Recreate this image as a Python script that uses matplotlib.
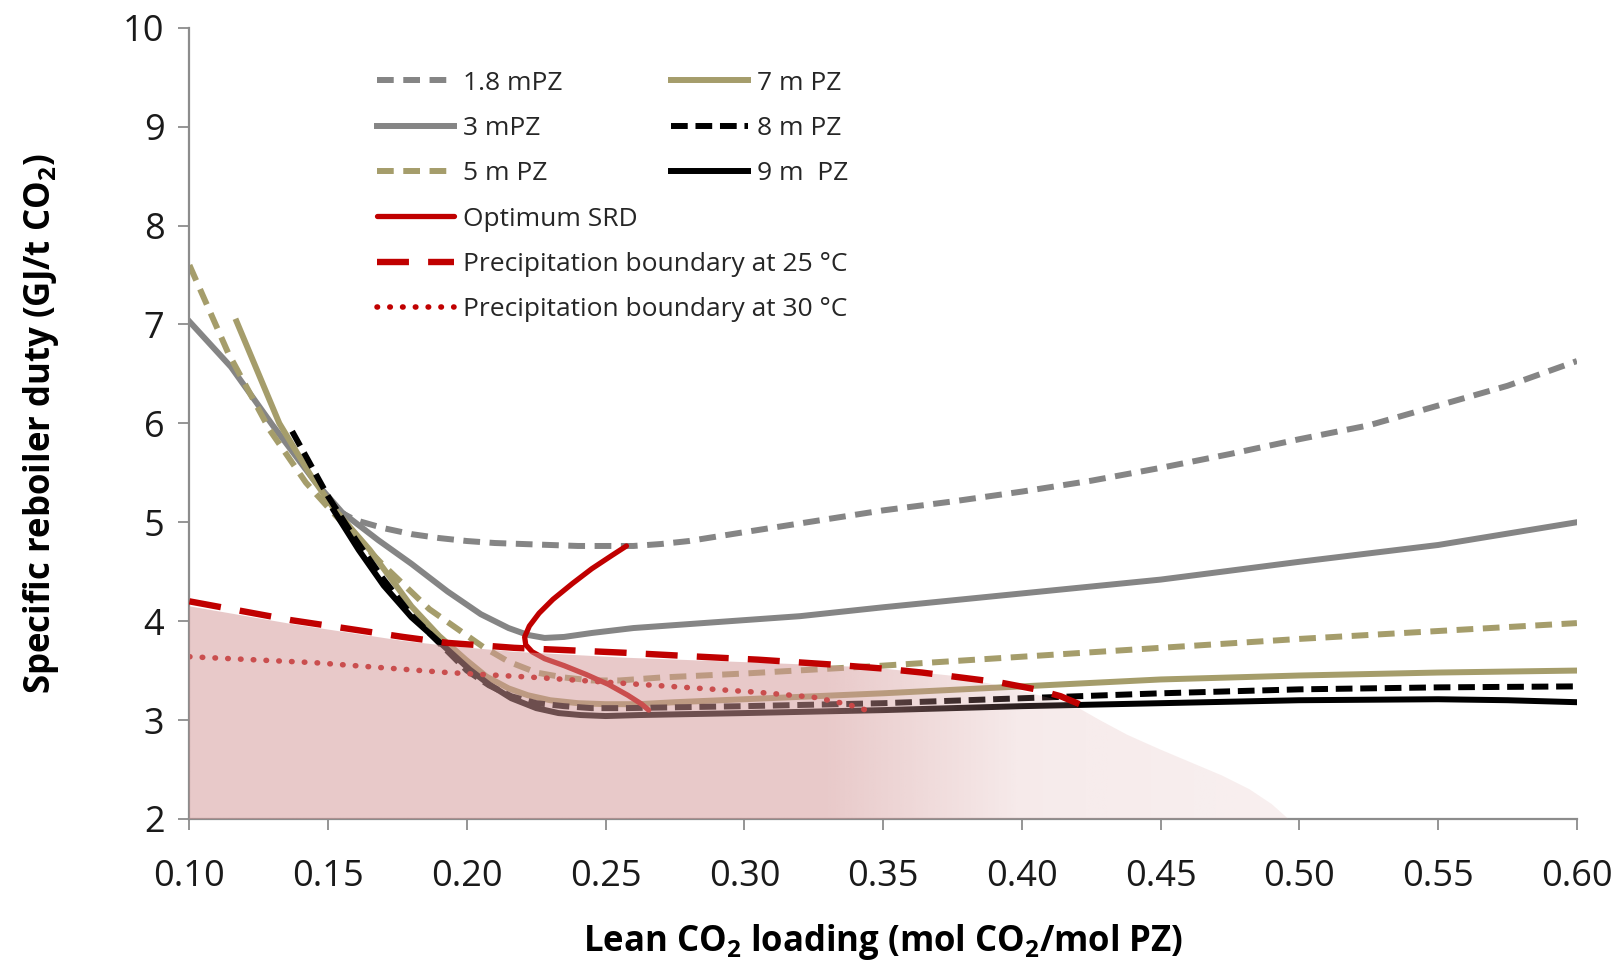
import numpy as np
import matplotlib
matplotlib.use('Agg')
import matplotlib.pyplot as plt
from matplotlib.patches import Polygon

plt.rcParams['font.family'] = ['Open Sans', 'DejaVu Sans']
plt.rcParams['mathtext.fontset'] = 'custom'
plt.rcParams['mathtext.rm'] = 'Open Sans'
plt.rcParams['mathtext.bf'] = 'Open Sans:bold'

# curves
x_18 = [0.153, 0.16, 0.17, 0.18, 0.19, 0.20, 0.21, 0.22, 0.23, 0.24, 0.25, 0.26, 0.27, 0.28, 0.30, 0.325, 0.35, 0.375, 0.40, 0.425, 0.45, 0.475, 0.50, 0.525, 0.55, 0.575, 0.60]
y_18 = [5.12, 5.02, 4.94, 4.88, 4.84, 4.81, 4.79, 4.78, 4.77, 4.76, 4.76, 4.76, 4.78, 4.81, 4.90, 5.01, 5.12, 5.21, 5.31, 5.42, 5.55, 5.69, 5.84, 5.98, 6.18, 6.38, 6.63]

x_3 = [0.10, 0.115, 0.13, 0.145, 0.155, 0.168, 0.18, 0.193, 0.205, 0.215, 0.222, 0.228, 0.235, 0.245, 0.26, 0.29, 0.32, 0.35, 0.40, 0.45, 0.50, 0.55, 0.60]
y_3 = [7.03, 6.57, 5.98, 5.42, 5.10, 4.82, 4.58, 4.30, 4.07, 3.93, 3.86, 3.83, 3.84, 3.88, 3.93, 3.99, 4.05, 4.14, 4.28, 4.42, 4.60, 4.77, 5.00]

x_5 = [0.10, 0.114, 0.129, 0.142, 0.15, 0.16, 0.169, 0.1865, 0.2058, 0.215, 0.225, 0.235, 0.245, 0.255, 0.27, 0.30, 0.35, 0.40, 0.45, 0.50, 0.55, 0.60]
y_5 = [7.60, 6.71, 5.93, 5.40, 5.15, 4.85, 4.59, 4.12, 3.74, 3.59, 3.48, 3.43, 3.40, 3.40, 3.43, 3.47, 3.55, 3.64, 3.73, 3.82, 3.90, 3.98]

x_7 = [0.117, 0.1324, 0.144, 0.152, 0.165, 0.18, 0.19, 0.1996, 0.207, 0.215, 0.222, 0.230, 0.240, 0.25, 0.262, 0.275, 0.30, 0.35, 0.40, 0.45, 0.50, 0.55, 0.60]
y_7 = [7.03, 6.00, 5.46, 5.14, 4.72, 4.15, 3.85, 3.61, 3.44, 3.32, 3.25, 3.20, 3.17, 3.16, 3.16, 3.18, 3.21, 3.27, 3.34, 3.41, 3.45, 3.48, 3.50]

x_8 = [0.137, 0.15, 0.16, 0.17, 0.18, 0.19, 0.20, 0.208, 0.216, 0.225, 0.235, 0.245, 0.257, 0.30, 0.35, 0.40, 0.45, 0.50, 0.55, 0.60]
y_8 = [5.92, 5.26, 4.82, 4.42, 4.06, 3.78, 3.50, 3.35, 3.24, 3.17, 3.14, 3.12, 3.12, 3.14, 3.17, 3.22, 3.27, 3.31, 3.33, 3.34]

x_9 = [0.152, 0.161, 0.17, 0.18, 0.19, 0.201, 0.208, 0.216, 0.225, 0.233, 0.241, 0.25, 0.262, 0.30, 0.35, 0.40, 0.45, 0.50, 0.55, 0.575, 0.60]
y_9 = [5.12, 4.72, 4.36, 4.04, 3.79, 3.51, 3.36, 3.22, 3.12, 3.07, 3.05, 3.04, 3.05, 3.07, 3.10, 3.14, 3.17, 3.20, 3.21, 3.20, 3.18]

x_opt = [0.2575, 0.252, 0.245, 0.238, 0.231, 0.226, 0.2225, 0.2208, 0.2212, 0.2235, 0.228, 0.235, 0.243, 0.251, 0.258, 0.263, 0.2655]
y_opt = [4.76, 4.66, 4.53, 4.38, 4.22, 4.08, 3.95, 3.84, 3.76, 3.69, 3.62, 3.55, 3.46, 3.36, 3.25, 3.16, 3.10]

x_p25 = [0.10, 0.1366, 0.177, 0.193, 0.217, 0.257, 0.284, 0.305, 0.332, 0.35, 0.364, 0.378, 0.392, 0.405, 0.414, 0.4207]
y_p25 = [4.20, 4.01, 3.84, 3.78, 3.73, 3.68, 3.64, 3.61, 3.56, 3.52, 3.48, 3.43, 3.38, 3.31, 3.24, 3.16]

x_p30 = [0.10, 0.145, 0.193, 0.225, 0.257, 0.284, 0.305, 0.325, 0.337, 0.345]
y_p30 = [3.64, 3.58, 3.48, 3.43, 3.37, 3.32, 3.28, 3.23, 3.16, 3.09]

# shaded precipitation zone (top edge)
fill_x = [0.10, 0.137, 0.177, 0.193, 0.217, 0.257, 0.305, 0.332, 0.35, 0.374, 0.395, 0.4174, 0.428, 0.438, 0.45, 0.461, 0.472, 0.482, 0.49, 0.496]
fill_top = [4.15, 3.97, 3.80, 3.75, 3.69, 3.63, 3.58, 3.55, 3.52, 3.45, 3.33, 3.17, 3.00, 2.85, 2.70, 2.57, 2.44, 2.30, 2.15, 2.00]

xticks = [0.10, 0.15, 0.20, 0.25, 0.30, 0.35, 0.40, 0.45, 0.50, 0.55, 0.60]
yticks = [2, 3, 4, 5, 6, 7, 8, 9, 10]

grey = '#858585'
olive = '#A59D6B'
red = '#C00000'
lw = 4.3

fig = plt.figure(figsize=(16.19, 9.6), dpi=100)
ax = fig.add_axes([0.117, 0.147, 0.857, 0.824])

l18, = ax.plot(x_18, y_18, color=grey, lw=lw, dashes=(2.8, 1.6), zorder=2)
l3, = ax.plot(x_3, y_3, color=grey, lw=lw, zorder=2)
l5, = ax.plot(x_5, y_5, color=olive, lw=lw, dashes=(2.8, 1.6), zorder=2)
l7, = ax.plot(x_7, y_7, color=olive, lw=lw, zorder=2)
l8, = ax.plot(x_8, y_8, color='black', lw=lw, dashes=(2.8, 1.3), zorder=2)
l9, = ax.plot(x_9, y_9, color='black', lw=lw, zorder=2)
lopt, = ax.plot(x_opt, y_opt, color=red, lw=3.8, zorder=2, solid_capstyle='round')
lp30, = ax.plot(x_p30, y_p30, color=red, lw=4.0, dashes=(0.1, 2.2),
                dash_capstyle='round', zorder=2)
lp25, = ax.plot(x_p25, y_p25, color=red, lw=4.6, dashes=(5.0, 3.0), zorder=4)

# gradient fill, fading to the right
gx = np.linspace(0.10, 0.50, 400)
alpha = np.interp(gx, [0.10, 0.33, 0.40, 0.50], [0.52, 0.52, 0.2, 0.15])
img = np.zeros((1, len(gx), 4))
img[..., 0] = 212 / 255
img[..., 1] = 152 / 255
img[..., 2] = 152 / 255
img[0, :, 3] = alpha
im = ax.imshow(img, extent=[0.10, 0.50, 2, 4.3], aspect='auto', origin='lower',
               interpolation='bilinear', zorder=3)
verts = list(zip(fill_x, fill_top)) + [(0.10, 2.0)]
poly = Polygon(verts, closed=True, facecolor='none', edgecolor='none', transform=ax.transData)
ax.add_patch(poly)
im.set_clip_path(poly)

ax.set_xlim(0.10, 0.60)
ax.set_ylim(2, 10)
ax.set_xticks(xticks)
ax.set_xticklabels(['%.2f' % v for v in xticks])
ax.set_yticks(yticks)

for s in ['top', 'right']:
    ax.spines[s].set_visible(False)
for s in ['left', 'bottom']:
    ax.spines[s].set_color('#8c8c8c')
    ax.spines[s].set_linewidth(1.6)
ax.tick_params(axis='both', colors='#8c8c8c', length=8, width=1.3, labelsize=26,
               labelcolor='#1a1a1a')
ax.tick_params(axis='x', pad=21)
ax.tick_params(axis='y', pad=10)

ax.set_xlabel(r'Lean CO$_\mathbf{2}$ loading (mol CO$_\mathbf{2}$/mol PZ)', fontsize=25,
              fontweight='bold', va='center')
ax.set_ylabel(r'Specific reboiler duty (GJ/t CO$_\mathbf{2}$)', fontsize=25,
              fontweight='bold', va='center')
ax.xaxis.set_label_coords(0.5, -0.156)
ax.yaxis.set_label_coords(-0.107, 0.5)

leg_kw = dict(frameon=False, fontsize=19, handlelength=2.92, handletextpad=0.34,
              labelspacing=0.77, borderpad=0, borderaxespad=0, labelcolor='#262626',
              loc='upper left')
leg1 = ax.legend([l18, l3, l5, lopt, lp25, lp30],
                 ['1.8 mPZ', '3 mPZ', '5 m PZ', 'Optimum SRD',
                  'Precipitation boundary at 25 °C', 'Precipitation boundary at 30 °C'],
                 bbox_to_anchor=(0.135, 0.946), **leg_kw)
ax.add_artist(leg1)
ax.legend([l7, l8, l9], ['7 m PZ', '8 m PZ', '9 m  PZ'],
          bbox_to_anchor=(0.347, 0.946), **leg_kw)

fig.savefig('out.png', dpi=100)
